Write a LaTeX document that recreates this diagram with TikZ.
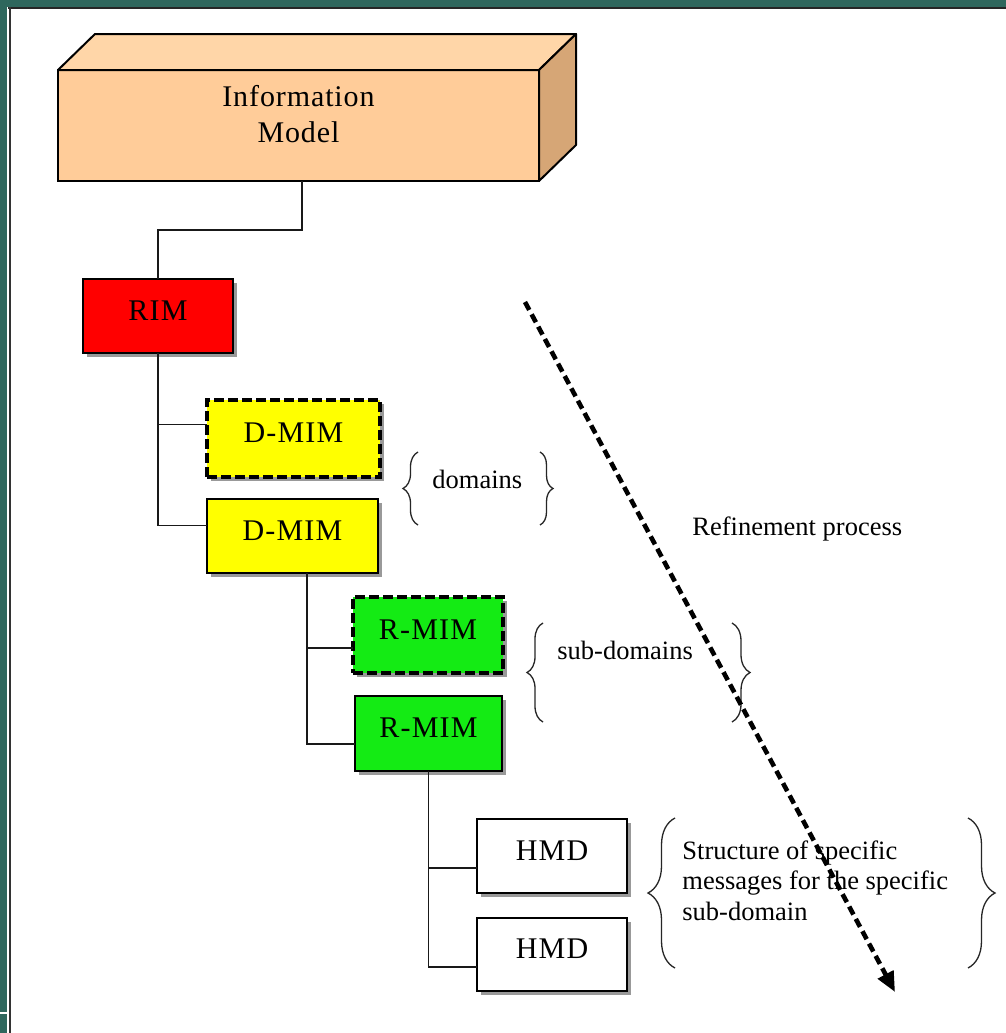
\documentclass[tikz,border=0pt]{standalone}
\usepackage{fontspec}
\setmainfont{Liberation Serif}
\usetikzlibrary{arrows.meta,calc,shadows,decorations.pathreplacing}

\definecolor{frameteal}{RGB}{47,103,93}
\definecolor{peachfront}{RGB}{255,204,153}
\definecolor{peachtop}{RGB}{255,214,168}
\definecolor{peachside}{RGB}{214,166,118}
\definecolor{rimred}{RGB}{255,0,0}
\definecolor{dmimyellow}{RGB}{255,255,0}
\definecolor{rmimgreen}{RGB}{20,235,20}

\begin{document}
\begin{tikzpicture}[x=0.5pt,y=-0.5pt,
  conn/.style={line width=0.75pt, draw=black!90},
  boxbase/.style={rectangle, draw=black, line width=1pt, outer sep=0pt, inner sep=0pt,
    font=\fontsize{15}{18}\selectfont\addfontfeatures{LetterSpace=4},
    text height=10pt, text depth=6pt,
    drop shadow={shadow xshift=2pt, shadow yshift=-2pt, opacity=1, fill=black!40}},
  dashedbox/.style={boxbase, line width=1.6pt, dash pattern=on 5pt off 2pt},
  note/.style={font=\fontsize{13.25}{15.25}\selectfont, inner sep=0pt},
  curly/.style={decorate, line width=0.65pt, draw=black!85},
  refarrow/.style={line width=2.3pt, dash pattern=on 4.5pt off 2.5pt,
    -{Triangle[length=10pt,width=8.5pt]}}
]

% page and frame
\fill[white] (0,0) rectangle (1006,1033);
\fill[frameteal] (0,0) rectangle (1006,7);
\fill[frameteal] (0,0) rectangle (7,1033);
\fill[black!85] (8,7) rectangle (1006,8.5);
\fill[black!80] (8.5,7) rectangle (11,1033);
\fill[white] (0,1012) rectangle (7,1014);
\useasboundingbox (0,0) rectangle (1006,1033);

% information model block (front face, then top and side faces)
\node[rectangle, draw=black, line width=1pt, fill=peachfront, outer sep=0pt,
  minimum width=240.5pt, minimum height=55.5pt,
  label={[font=\fontsize{15}{18}\selectfont\addfontfeatures{LetterSpace=3}, align=center, yshift=5.75pt]center:Information\\Model}]
  (info) at (298.5,125.5) {};
\filldraw[fill=peachtop, draw=black, line width=1pt, line join=round]
  (info.north west) -- ++(37,-36) -- ++(481,0) -- (info.north east) -- cycle;
\filldraw[fill=peachside, draw=black, line width=1pt, line join=round]
  (info.north east) -- ++(37,-36) -- ++(0,111) -- (info.south east) -- cycle;

% model boxes
\node[boxbase, fill=rimred, minimum width=75pt, minimum height=37pt] (rim) at (158,316) {RIM};
\node[dashedbox, fill=dmimyellow, minimum width=86.5pt, minimum height=38.5pt] (dmimA) at (293.5,438.5) {D-MIM};
\node[boxbase, fill=dmimyellow, minimum width=85.5pt, minimum height=37pt] (dmimB) at (292.5,536) {D-MIM};
\node[dashedbox, fill=rmimgreen, minimum width=75pt, minimum height=38pt] (rmimA) at (428,635) {R-MIM};
\node[boxbase, fill=rmimgreen, minimum width=73.5pt, minimum height=37.5pt] (rmimB) at (428.5,733.5) {R-MIM};
\node[boxbase, fill=white, minimum width=75pt, minimum height=37pt] (hmdA) at (552,856) {HMD};
\node[boxbase, fill=white, minimum width=75pt, minimum height=36.5pt] (hmdB) at (552,954.5) {HMD};

% tree connectors
\coordinate (ia) at ($(info.south)+(3.5,0)$);
\coordinate (im) at ($(info.south)!0.5!(rim.north)$);
\draw[conn] (ia) -- (ia |- im) -| (rim.north);
\draw[conn] (rim.south) |- ($(dmimA.north west)!0.32!(dmimA.south west)$);
\draw[conn] (rim.south) |- ($(dmimB.north west)!0.36!(dmimB.south west)$);
\coordinate (db) at ($(dmimB.south west)!0.585!(dmimB.south east)$);
\draw[conn] (db) |- ($(rmimA.north west)!0.67!(rmimA.south west)$);
\draw[conn] (db) |- ($(rmimB.north west)!0.64!(rmimB.south west)$);
\draw[conn] (rmimB.south) |- ($(hmdA.north west)!0.66!(hmdA.south west)$);
\draw[conn] (rmimB.south) |- ($(hmdB.north west)!0.67!(hmdB.south west)$);

% braces with their notes
\draw[curly, decoration={brace, amplitude=7.5pt}] (418,525) -- (418,452);
\draw[curly, decoration={brace, amplitude=6.5pt}] (540,452) -- (540,525);
\node[note, anchor=base west] (domains) at (432,488) {domains};

\draw[curly, decoration={brace, amplitude=8pt}] (543,722) -- (543,623);
\draw[curly, decoration={brace, amplitude=9pt}] (732,623) -- (732,722);
\node[note, anchor=base west] (subdomains) at (557,659) {sub-domains};

\draw[curly, decoration={brace, amplitude=13.5pt}] (675,968) -- (675,818);
\draw[curly, decoration={brace, amplitude=13.5pt}] (968,818) -- (968,968);
\node[note, anchor=north west, align=left] (structure) at (682,840)
  {Structure of specific\\messages for the specific\\sub-domain};

\node[note, anchor=base west] (refine) at (692,535) {Refinement process};

% refinement arrow
\coordinate (rstart) at (525,302);
\coordinate (rend) at (895,992);
\draw[refarrow] (rstart) -- (rend);

\end{tikzpicture}
\end{document}
